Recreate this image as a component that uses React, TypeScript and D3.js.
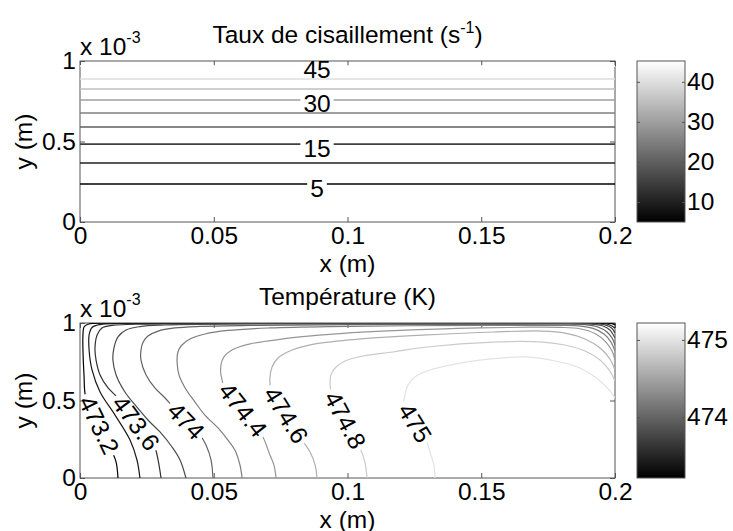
import React, { useRef, useEffect } from "react";
import * as d3 from "d3";

// axis ticks (x in m, y in units of 1e-3 m)
const xTicks = [0, 0.05, 0.1, 0.15, 0.2];
const yTicks = [0, 0.5, 1];

// shear rate (s^-1): every level is a flat line, height in 1e-3 m
const shearLevels = [5, 10, 15, 20, 25, 30, 35, 40, 45];
const shearHeights = [0.236, 0.366, 0.484, 0.59, 0.677, 0.758, 0.826, 0.888, 0.969];
const shearLabelLevels = [5, 15, 30, 45];
const shearLabelX = 0.0886;
const shearRange = [5, 45.2];
const shearBarTicks = [10, 20, 30, 40];

// temperature (K): contour lines, [x (m), y (1e-3 m)]
const tempRange = [473.21, 475.22];
const tempBarTicks = [474, 475];
const tempLevels = [473.2, 473.4, 473.6, 473.8, 474, 474.2, 474.4, 474.6, 474.8, 475];

const c473_2 = [[0.0142, 0], [0.0135, 0.103], [0.012, 0.168], [0.0071, 0.342], [0.0022, 0.516], [0.0015, 0.665], [0.0011, 0.826], [0.0011, 0.923], [0.0015, 0.974], [0.003, 0.992], [0.0112, 0.999], [0.0822, 1.0], [0.1869, 1.0], [0.197, 0.999], [0.1989, 0.996], [0.2, 0.987]];
const c473_4 = [[0.0224, 0], [0.0213, 0.116], [0.0187, 0.245], [0.0131, 0.406], [0.0075, 0.555], [0.0045, 0.697], [0.0034, 0.826], [0.0034, 0.923], [0.0045, 0.971], [0.0075, 0.99], [0.015, 0.997], [0.0822, 0.999], [0.1832, 0.999], [0.1955, 0.997], [0.1981, 0.987], [0.2, 0.968]];
const c473_6 = [[0.0303, 0], [0.0292, 0.116], [0.028, 0.194], [0.0209, 0.355], [0.0142, 0.516], [0.0105, 0.581], [0.0075, 0.665], [0.006, 0.761], [0.0056, 0.839], [0.0064, 0.923], [0.0082, 0.968], [0.012, 0.985], [0.025, 0.993], [0.0822, 0.998], [0.1794, 0.998], [0.1936, 0.995], [0.197, 0.984], [0.1989, 0.965], [0.2, 0.935]];
const c473_8 = [[0.0396, 0], [0.0374, 0.116], [0.0344, 0.2], [0.0299, 0.297], [0.0254, 0.374], [0.0206, 0.471], [0.0168, 0.555], [0.0135, 0.665], [0.0123, 0.761], [0.0127, 0.839], [0.0142, 0.91], [0.0172, 0.955], [0.0224, 0.977], [0.0318, 0.987], [0.0822, 0.995], [0.1832, 0.996], [0.1914, 0.992], [0.1955, 0.981], [0.1981, 0.955], [0.2, 0.903]];
const c474_0 = [[0.0497, 0], [0.049, 0.116], [0.0471, 0.213], [0.0449, 0.277], [0.0396, 0.368], [0.0348, 0.458], [0.0318, 0.516], [0.028, 0.581], [0.0247, 0.665], [0.0228, 0.761], [0.0228, 0.826], [0.0236, 0.877], [0.0254, 0.916], [0.0292, 0.948], [0.0355, 0.968], [0.0449, 0.978], [0.0636, 0.985], [0.1009, 0.989], [0.1757, 0.992], [0.1888, 0.989], [0.1936, 0.974], [0.197, 0.942], [0.1989, 0.903], [0.2, 0.858]];
const c474_2 = [[0.0606, 0], [0.0598, 0.084], [0.0579, 0.181], [0.0553, 0.245], [0.0516, 0.323], [0.0467, 0.406], [0.043, 0.49], [0.0393, 0.581], [0.037, 0.665], [0.0363, 0.748], [0.0366, 0.813], [0.0381, 0.858], [0.0411, 0.897], [0.0467, 0.929], [0.0553, 0.952], [0.071, 0.968], [0.0935, 0.977], [0.1495, 0.985], [0.1794, 0.985], [0.1851, 0.983], [0.1918, 0.965], [0.1959, 0.929], [0.1985, 0.877], [0.2, 0.819]];
const c474_4 = [[0.0733, 0], [0.0725, 0.084], [0.071, 0.148], [0.068, 0.277], [0.0609, 0.439], [0.0542, 0.581], [0.0527, 0.665], [0.0527, 0.729], [0.0538, 0.781], [0.0568, 0.826], [0.0636, 0.865], [0.0729, 0.89], [0.0822, 0.91], [0.0972, 0.932], [0.1196, 0.952], [0.1495, 0.968], [0.1682, 0.973], [0.1794, 0.972], [0.1869, 0.963], [0.1925, 0.932], [0.1966, 0.877], [0.1989, 0.819], [0.2, 0.761]];
const c474_6 = [[0.0886, 0], [0.0879, 0.084], [0.086, 0.168], [0.083, 0.245], [0.077, 0.406], [0.0714, 0.568], [0.071, 0.645], [0.0718, 0.716], [0.074, 0.774], [0.0793, 0.826], [0.0879, 0.865], [0.1047, 0.897], [0.1297, 0.923], [0.1544, 0.942], [0.1731, 0.948], [0.1813, 0.935], [0.1888, 0.897], [0.1944, 0.839], [0.1981, 0.768], [0.2, 0.697]];
const c474_8 = [[0.1073, 0], [0.1065, 0.103], [0.1047, 0.194], [0.0991, 0.374], [0.0942, 0.535], [0.0935, 0.6], [0.0938, 0.665], [0.0957, 0.716], [0.0991, 0.755], [0.1058, 0.787], [0.117, 0.813], [0.1297, 0.845], [0.1544, 0.877], [0.1731, 0.877], [0.1813, 0.858], [0.1888, 0.819], [0.1944, 0.761], [0.1978, 0.697], [0.2, 0.626]];
const c475_0 = [[0.1327, 0], [0.1323, 0.084], [0.1308, 0.168], [0.1297, 0.232], [0.1252, 0.355], [0.1211, 0.471], [0.1215, 0.535], [0.1226, 0.6], [0.1252, 0.652], [0.1308, 0.697], [0.1402, 0.735], [0.1495, 0.761], [0.1671, 0.781], [0.1776, 0.755], [0.1869, 0.71], [0.1936, 0.639], [0.1978, 0.568], [0.2, 0.516]];
const tempContours = [c473_2, c473_4, c473_6, c473_8, c474_0, c474_2, c474_4, c474_6, c474_8, c475_0];

const tempLabelLevels = [473.2, 473.6, 474, 474.4, 474.6, 474.8, 475];
const tempLabelX = [0.0071, 0.0209, 0.0396, 0.0609, 0.077, 0.0991, 0.1252];
const tempLabelY = [0.342, 0.355, 0.368, 0.439, 0.406, 0.374, 0.355];

const FONT = '"Liberation Sans", Arial, Helvetica, sans-serif';
const FS = 24.5;
const SUP = 16;

function App() {
  const svgRef = useRef(null);
  const width = 733;
  const height = 531;

  useEffect(() => {
    const svg = d3.select(svgRef.current);
    svg.selectAll("*").remove();
    const defs = svg.append("defs");

    const left = 80, right = 615;
    const barLeft = 637, barRight = 685;
    const axisColor = "#555";

    const grad = defs.append("linearGradient")
      .attr("id", "grayBar")
      .attr("x1", 0).attr("x2", 0).attr("y1", 1).attr("y2", 0);
    grad.append("stop").attr("offset", "0%").attr("stop-color", "#000");
    grad.append("stop").attr("offset", "100%").attr("stop-color", "#fff");

    // one panel = axes box + ticks + colorbar, returns its scales
    function panel(id, top, bottom, range, barTicks, titleParts) {
      const x = d3.scaleLinear([0, 0.2], [left, right]);
      const y = d3.scaleLinear([0, 1], [bottom, top]);

      defs.append("clipPath").attr("id", "clip-" + id)
        .append("rect")
        .attr("x", left).attr("y", top)
        .attr("width", right - left).attr("height", bottom - top);

      const styleAxis = g => {
        g.attr("font-family", FONT).attr("font-size", FS);
        g.select(".domain").remove();
        g.selectAll("line").attr("stroke", axisColor);
        g.selectAll("text").attr("fill", "#000");
      };

      svg.append("g")
        .attr("transform", `translate(0,${bottom})`)
        .call(d3.axisBottom(x).tickValues(xTicks).tickSize(-5).tickPadding(4.5).tickFormat(d => String(d)))
        .call(styleAxis);
      svg.append("g")
        .attr("transform", `translate(0,${top})`)
        .call(d3.axisTop(x).tickValues(xTicks).tickSize(-5).tickFormat(() => ""))
        .call(styleAxis);
      svg.append("g")
        .attr("transform", `translate(${left},0)`)
        .call(d3.axisLeft(y).tickValues(yTicks).tickSize(-5).tickPadding(4).tickFormat(d => String(d)))
        .call(styleAxis);
      svg.append("g")
        .attr("transform", `translate(${right},0)`)
        .call(d3.axisRight(y).tickValues(yTicks).tickSize(-5).tickFormat(() => ""))
        .call(styleAxis);

      svg.append("rect")
        .attr("x", left).attr("y", top)
        .attr("width", right - left).attr("height", bottom - top)
        .attr("fill", "none").attr("stroke", axisColor);

      const txt = svg.append("g").attr("font-family", FONT).attr("font-size", FS).attr("fill", "#000");

      // exponent label
      const ex = txt.append("text").attr("x", left).attr("y", top - 6);
      ex.append("tspan").text("x 10");
      ex.append("tspan").attr("font-size", SUP).attr("dy", -12).text("-3");

      // title
      const t = txt.append("text").attr("x", (left + right) / 2).attr("y", top - 18).attr("text-anchor", "middle");
      t.append("tspan").text(titleParts[0]);
      if (titleParts[1]) {
        t.append("tspan").attr("font-size", SUP).attr("dy", -10).text(titleParts[1]);
        t.append("tspan").attr("dy", 10).text(titleParts[2]);
      }

      txt.append("text")
        .attr("x", (left + right) / 2).attr("y", bottom + 49.5)
        .attr("text-anchor", "middle").text("x (m)");
      txt.append("text")
        .attr("transform", `translate(32,${(top + bottom) / 2}) rotate(-90)`)
        .attr("text-anchor", "middle").text("y (m)");

      // colorbar
      const cb = d3.scaleLinear(range, [bottom, top]);
      svg.append("rect")
        .attr("x", barLeft).attr("y", top)
        .attr("width", barRight - barLeft).attr("height", bottom - top)
        .attr("fill", "url(#grayBar)").attr("stroke", axisColor);
      svg.append("g")
        .attr("transform", `translate(${barRight},0)`)
        .call(d3.axisRight(cb).tickValues(barTicks).tickSize(-3).tickPadding(2).tickFormat(d => String(d)))
        .call(styleAxis);
      svg.append("g")
        .attr("transform", `translate(${barLeft},0)`)
        .call(d3.axisLeft(cb).tickValues(barTicks).tickSize(-3).tickFormat(() => ""))
        .call(styleAxis);

      const color = d3.scaleLinear(range, ["#000", "#fff"]).clamp(true);
      return { x, y, color };
    }

    // label with a gap cut into its own contour line
    function addLabel(id, pathSel, layer, cx, cy, angle, text, dy) {
      const lab = layer.append("text")
        .attr("transform", `translate(${cx},${cy}) rotate(${angle})`)
        .attr("text-anchor", "middle")
        .attr("dominant-baseline", "central")
        .attr("dy", dy)
        .text(text);
      const w = lab.node().getComputedTextLength();
      const m = defs.append("mask").attr("id", id).attr("maskUnits", "userSpaceOnUse")
        .attr("x", 0).attr("y", 0).attr("width", width).attr("height", height);
      m.append("rect").attr("x", 0).attr("y", 0).attr("width", width).attr("height", height).attr("fill", "#fff");
      m.append("rect")
        .attr("transform", `translate(${cx},${cy}) rotate(${angle})`)
        .attr("x", -w / 2 - 3).attr("y", -9 + dy).attr("width", w + 6).attr("height", 18)
        .attr("fill", "#000");
      pathSel.attr("mask", `url(#${id})`);
    }

    // ---- top: shear rate ----
    const p1 = panel("shear", 61, 222, shearRange, shearBarTicks, ["Taux de cisaillement (s", "-1", ")"]);
    const line1 = d3.line().x(d => p1.x(d[0])).y(d => p1.y(d[1]));
    const g1 = svg.append("g").attr("clip-path", "url(#clip-shear)");
    const lab1 = svg.append("g").attr("font-family", FONT).attr("font-size", FS).attr("fill", "#000");
    shearLevels.forEach((lev, i) => {
      const h = shearHeights[i];
      const p = g1.append("path")
        .attr("d", line1([[0, h], [0.2, h]]))
        .attr("fill", "none")
        .attr("stroke", p1.color(lev))
        .attr("stroke-width", 1.6);
      if (shearLabelLevels.includes(lev)) {
        addLabel("ms" + i, p, lab1, p1.x(shearLabelX), p1.y(h), 0, String(lev), 4);
      }
    });

    // ---- bottom: temperature ----
    const p2 = panel("temp", 323, 478, tempRange, tempBarTicks, ["Température (K)"]);
    const line2 = d3.line().x(d => p2.x(d[0])).y(d => p2.y(d[1])).curve(d3.curveCatmullRom.alpha(0.5));
    const g2 = svg.append("g").attr("clip-path", "url(#clip-temp)");
    const lab2 = svg.append("g").attr("font-family", FONT).attr("font-size", FS).attr("fill", "#000");
    tempLevels.forEach((lev, i) => {
      const pts = tempContours[i];
      const p = g2.append("path")
        .attr("d", line2(pts))
        .attr("fill", "none")
        .attr("stroke", p2.color(lev))
        .attr("stroke-width", 1.2);
      const k = tempLabelLevels.indexOf(lev);
      if (k < 0) return;
      const cx = p2.x(tempLabelX[k]);
      const cy = p2.y(tempLabelY[k]);
      // text follows the contour direction around the label point
      const j = d3.minIndex(pts, d => (p2.x(d[0]) - cx) ** 2 + (p2.y(d[1]) - cy) ** 2);
      const a = pts[Math.max(j - 1, 0)];
      const b = pts[Math.min(j + 1, pts.length - 1)];
      let ang = Math.atan2(p2.y(b[1]) - p2.y(a[1]), p2.x(b[0]) - p2.x(a[0])) * 180 / Math.PI;
      if (ang > 90) ang -= 180;
      if (ang < -90) ang += 180;
      addLabel("mt" + i, p, lab2, cx, cy, ang, String(lev), 0);
    });
  }, []);

  return (
    <svg
      ref={svgRef}
      width={width}
      height={height}
      style={{ position: "absolute", left: 0, top: 0, background: "#fff" }}
    ></svg>
  );
}

export default App;
